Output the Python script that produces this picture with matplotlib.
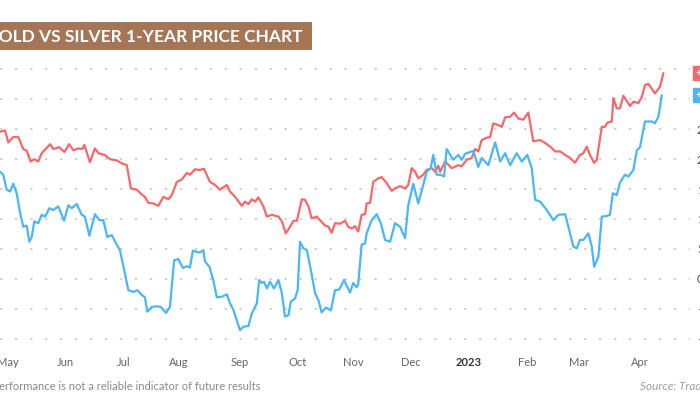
import matplotlib
matplotlib.use("Agg")
import matplotlib.pyplot as plt
from matplotlib.patches import Rectangle

# ---- data (trading-day index since 2 May 2022, % change) ----
gold_day = [-3.0, -1.1, 0.1, 2.0, 3.9, 5.8, 7.1, 8.6, 10.0, 11.5, 12.8, 16.0, 17.2, 19.4, 21.4, 23.2,
            24.8, 26.7, 28.2, 29.0, 31.1, 33.0, 34.3, 36.8, 38.7, 41.3, 43.2, 45.1, 46.7, 48.9, 50.8,
            52.0, 53.3, 55.2, 57.1, 59.0, 60.9, 62.2, 64.1, 66.0, 67.9, 69.1, 71.0, 72.9, 74.4, 76.7,
            78.6, 80.5, 83.1, 84.3, 86.2, 88.8, 90.0, 91.3, 92.6, 93.8, 95.1, 97.0, 98.3, 100.2, 102.7,
            104.0, 105.5, 107.1, 108.4, 109.7, 111.6, 112.8, 114.1, 115.3, 117.2, 118.5, 120.4, 121.7,
            122.9, 124.2, 126.1, 128.0, 129.2, 130.5, 131.8, 133.0, 134.3, 135.6, 136.2, 137.5, 138.7,
            140.6, 141.9, 143.8, 145.7, 147.0, 148.9, 150.8, 152.0, 153.3, 154.6, 155.8, 157.7, 159.0,
            160.9, 162.2, 163.4, 164.1, 166.0, 168.5, 171.0, 172.3, 174.2, 176.1, 177.4, 178.6, 179.9,
            181.8, 183.1, 184.3, 186.2, 187.5, 188.8, 190.7, 192.2, 193.8, 195.7, 197.6, 199.5, 202.1,
            204.0, 205.9, 207.8, 209.7, 211.6, 213.5, 215.3, 217.2, 218.5, 219.8, 221.0, 222.6, 223.6,
            225.5, 226.7, 227.6, 229.3, 229.9, 231.2, 232.4, 233.7, 236.2, 237.5, 239.4, 240.7, 241.9,
            243.2, 245.7, 247.6, 248.9]
gold_pct = [24.6, 24.8, 22.8, 23.7, 23.7, 21.7, 21.4, 19.6, 20.0, 19.6, 21.0, 22.5, 21.7, 22.0, 21.2, 22.5,
            21.5, 21.8, 21.7, 22.4, 19.5, 21.8, 21.0, 20.7, 20.0, 19.8, 19.3, 19.0, 15.1, 14.9, 14.1,
            13.7, 12.7, 12.6, 12.2, 13.7, 13.3, 14.0, 16.2, 16.6, 17.7, 17.4, 18.3, 18.2, 18.4, 16.2,
            15.7, 14.9, 15.7, 14.6, 13.7, 12.2, 12.9, 12.5, 13.3, 12.9, 13.6, 12.1, 10.4, 10.7, 10.4,
            9.6, 7.6, 8.7, 9.7, 9.7, 13.3, 13.2, 12.1, 10.1, 10.4, 9.8, 8.9, 8.7,
            7.7, 9.3, 9.2, 9.7, 8.7, 8.4, 8.8, 7.9, 10.7, 10.8, 12.6, 12.7, 16.2,
            16.8, 17.0, 16.0, 14.7, 15.1, 15.5, 15.1, 15.7, 18.5, 17.9, 16.8, 17.4, 18.2,
            18.5, 17.9, 18.9, 17.9, 19.6, 18.5, 19.0, 18.8, 19.9, 20.2, 21.7, 21.3, 23.2,
            23.6, 23.7, 26.0, 25.7, 25.4, 27.0, 27.1, 27.8, 26.8, 26.6, 27.8, 23.0, 23.2,
            22.7, 22.1, 21.3, 21.3, 20.7, 20.2, 19.4, 20.7, 21.0, 22.1, 20.7, 19.4, 19.9,
            25.4, 25.4, 26.1, 26.3, 30.2, 28.5, 28.5, 30.6, 28.9, 29.6, 29.4, 30.4, 32.4,
            32.6, 31.0, 32.1, 34.4]

silver_day = [-3.0, -1.8, -0.5, 0.8, 2.0, 3.3, 4.6, 5.8, 7.1, 8.1, 9.0, 10.0, 11.5, 12.8, 14.1, 15.7,
              17.2, 19.1, 21.3, 22.9, 24.2, 26.1, 28.0, 29.2, 30.9, 33.0, 34.7, 36.2, 37.7, 39.4, 41.3,
              42.5, 44.1, 45.7, 47.6, 49.1, 50.8, 52.0, 52.9, 54.6, 56.5, 58.0, 60.0, 61.5, 63.1, 64.7,
              66.4, 67.9, 69.1, 70.2, 71.7, 72.9, 74.2, 74.8, 76.5, 78.0, 79.3, 81.2, 83.1, 84.3, 85.6,
              88.1, 89.4, 91.3, 92.6, 94.5, 95.4, 96.4, 97.2, 98.3, 99.5, 101.0, 102.7, 104.0, 105.2,
              106.5, 107.4, 109.0, 110.0, 110.9, 112.2, 113.5, 115.0, 116.6, 117.9, 119.1, 120.8, 122.6,
              124.2, 125.8, 127.6, 129.9, 131.1, 132.4, 133.0, 134.3, 135.6, 136.2, 138.1, 140.0, 141.6,
              143.2, 145.1, 147.0, 148.9, 150.8, 152.0, 153.9, 155.8, 157.7, 159.0, 160.5, 161.5, 162.8,
              164.3, 165.6, 166.6, 169.1, 171.0, 172.3, 173.6, 176.7, 178.6, 179.9, 182.4, 185.0, 186.9,
              188.8, 190.7, 193.2, 195.1, 197.2, 198.9, 200.2, 202.1, 204.6, 207.1, 209.0, 211.6, 212.8,
              214.7, 216.0, 217.2, 218.5, 220.4, 221.7, 222.6, 224.2, 225.5, 227.4, 228.6, 229.7, 231.2,
              232.4, 234.3, 235.6, 237.5, 238.8, 240.0, 241.9, 244.5, 245.7, 247.0, 248.3]
silver_pct = [17.9, 17.4, 14.9, 14.6, 15.9, 14.3, 11.0, 8.7, 8.9, 6.2, 7.0, 9.6, 9.3, 10.7, 10.4, 11.8,
              11.5, 12.1, 9.7, 12.3, 11.8, 12.5, 10.7, 10.4, 7.2, 10.8, 9.8, 9.8, 7.0, 7.3, 5.7,
              4.8, 1.5, -1.9, -2.2, -1.9, -2.7, -3.1, -5.5, -4.7, -4.6, -4.7, -5.7, -4.7, 3.1, 3.3,
              1.8, 2.1, 1.9, 4.7, 4.5, 4.4, 4.8, 2.9, 2.0, -0.3, -3.1, -3.0, -2.6, -4.1, -5.2,
              -8.6, -8.0, -7.9, -5.8, -4.1, -0.2, -0.7, -0.5, -1.6, -0.5, -1.6, -0.2, -2.4, -6.3,
              -6.1, -3.8, -3.3, -1.9, 6.2, 5.1, 4.8, 1.5, -2.4, -3.6, -5.6, -4.8, -5.3,
              -1.9, -1.8, -0.2, -2.3, -0.7, -1.4, -0.9, 5.7, 5.9, 7.6, 9.8, 10.8, 9.3,
              6.5, 6.2, 9.3, 8.7, 6.8, 12.3, 15.9, 12.6, 15.7, 17.9, 18.5, 20.7, 17.4,
              17.4, 17.1, 21.7, 19.9, 20.7, 19.9, 20.9, 21.4, 18.7, 20.2, 19.0, 22.8, 19.6,
              21.0, 19.0, 21.0, 19.6, 20.7, 18.5, 13.2, 12.9, 11.5, 9.8, 10.7, 10.8, 8.7,
              5.4, 5.1, 6.5, 6.5, 7.6, 5.4, 2.0, 3.7, 10.4, 10.5, 10.7, 14.3, 14.0,
              16.1, 17.4, 17.1, 18.2, 21.5, 22.0, 26.3, 26.3, 26.0, 27.1, 30.7]

month_day = [0, 22, 44, 65, 88, 110, 131, 153, 175, 197, 217, 240]
month_labels = ["May", "Jun", "Jul", "Aug", "Sep", "Oct", "Nov", "Dec", "2023", "Feb", "Mar", "Apr"]
grid_vals = [35, 30, 25, 20, 15, 10, 5, 0, -5, -10]
# the two top labels are hidden behind the last-value boxes in the reference
grid_labels = ["", "", "25%", "20%", "15%", "10%", "5%", "0%", "\u22125%", "\u221210%"]

RED = "#f7686c"
BLUE = "#4cb6f2"
FONT = ["Lato", "DejaVu Sans"]
plt.rcParams["font.family"] = FONT

W, H = 700, 400
fig = plt.figure(figsize=(7, 4), dpi=100)
fig.patch.set_facecolor("white")

ax = fig.add_axes([0, 1 - 345 / H, 690 / W, 290 / H])
ax.set_facecolor("none")
ax.set_xlim(-3.04, 259.0)
ax.set_ylim(-11.07, 37.42)
for s in ax.spines.values():
    s.set_visible(False)

for g in grid_vals:
    ax.axhline(g, color="#d3d3d3", lw=1.4, ls=(0, (1.3, 6.4)), zorder=0)

ax.plot(gold_day, gold_pct, color=RED, lw=1.6, solid_joinstyle="round", solid_capstyle="round", zorder=3)
ax.plot(silver_day, silver_pct, color=BLUE, lw=1.6, solid_joinstyle="round", solid_capstyle="round", zorder=3)

ax.set_xticks(month_day)
ax.set_xticklabels(month_labels, fontsize=8, color="#666666")
for lab in ax.get_xticklabels():
    if lab.get_text() == "2023":
        lab.set_fontweight("bold")
        lab.set_color("#333333")
ax.tick_params(axis="x", length=0, pad=9)

ax.yaxis.tick_right()
ax.set_yticks(grid_vals)
ax.set_yticklabels(grid_labels, fontsize=8, color="#444444")
ax.tick_params(axis="y", length=0, pad=5)

# last-value labels
for vals, col in ((gold_pct, RED), (silver_pct, BLUE)):
    last = vals[-1]
    ax.annotate(f"+{last:.2f}%", xy=(1.0, last), xycoords=("axes fraction", "data"),
                xytext=(4, 0), textcoords="offset points", ha="left", va="center",
                fontsize=7.5, color="white", fontweight="bold",
                bbox=dict(boxstyle="square,pad=0.25", fc=col, ec=col), zorder=5,
                annotation_clip=False)

# title banner
fig.patches.append(Rectangle((0, 1 - 50 / H), 312 / W, 28 / H, transform=fig.transFigure,
                             facecolor="#a47656", edgecolor="none", zorder=1))
fig.text(302 / W, 1 - 36.5 / H, "GOLD VS SILVER 1-YEAR PRICE CHART", ha="right", va="center",
         fontsize=12.5, fontweight="bold", color="white", zorder=2)

# footer
fig.text(260 / W, 1 - 386 / H, "Past performance is not a reliable indicator of future results",
         ha="right", va="center", fontsize=8, color="#8a8a8a")
fig.text(640 / W, 1 - 386 / H, "Source: TradingView", ha="left", va="center",
         fontsize=8.5, color="#a0a0a0", style="italic")

fig.savefig("out.png", dpi=100, facecolor="white")
